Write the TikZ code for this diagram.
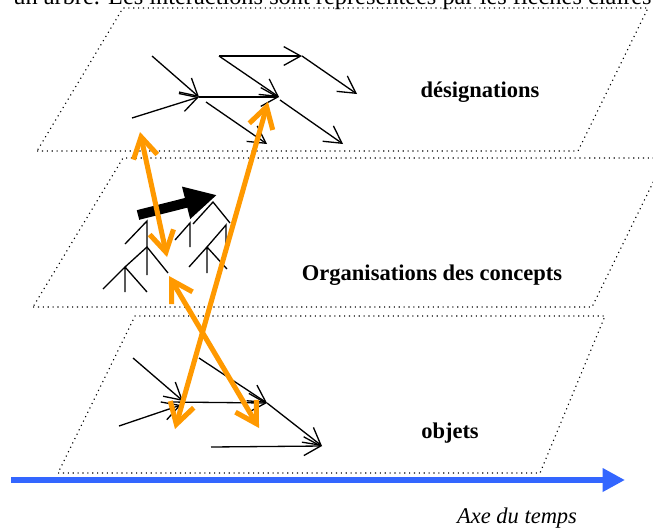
\documentclass[tikz,border=0pt,12pt]{standalone}
\usepackage{fontspec}
\setmainfont{Liberation Serif}
\usetikzlibrary{arrows.meta}
\definecolor{axisblue}{RGB}{51,102,255}
\definecolor{linkorange}{RGB}{255,153,0}
\tikzset{
  plane/.style = {dotted, line width=.6pt},
  rel/.style = {line width=.7pt, -{Straight Barb[length=9pt, width=10pt]}},
  fork/.style = {line width=.7pt},
  link/.style = {linkorange, line width=2.7pt,
    {Straight Barb[length=11pt, width=13pt]}-{Straight Barb[length=11pt, width=13pt]}},
  layer/.style = {font=\bfseries, anchor=base, inner sep=0pt}
}
\begin{document}
\begin{tikzpicture}[x = .5333pt, y = -.5333pt]
      \useasboundingbox (0,0) rectangle (653,529);
      \clip (0,0) rectangle (653,529);
      \node [anchor=base west, inner sep=0pt, font=\fontsize{13pt}{15pt}\selectfont] (legende) at (13,4.5) {un arbre. Les interactions sont représentées par les flèches claires};
      \draw [plane] (37,151) -- (578,151) -- (648,8) -- (123,8) -- cycle;
      \draw [plane] (33,307) -- (592,307) -- (665,158) -- (123,158) -- cycle;
      \draw [plane] (58,473) -- (540,473) -- (605,316) -- (135,316) -- cycle;
      % designations
      \draw [rel] (152,56) -- (199,97);
      \draw [rel] (132,118) -- (199,97);
      \draw [rel] (199,97) -- (279,97);
      \draw [rel] (219,56) -- (279,97);
      \draw [rel] (219,56) -- (302,56);
      \draw [rel] (206,102) -- (267,144);
      \draw [rel] (280,100) -- (343,144);
      \draw [rel] (302,56) -- (357,94);
      % concepts
      \draw [line width=5.3pt, -{Triangle[length=17pt, width=16.5pt]}] (138,215) -- (217,195);
      \draw [fork] (125,244) -- (147,221) -- (147,275);
      \draw [fork] (125,267) -- (147,247) -- (168,273);
      \draw [fork] (103,289) -- (125,267) -- (147,292) (125,267) -- (125,292);
      \draw [fork] (175,240) -- (190,223) -- (190,247);
      \draw [fork] (193,224) -- (213,202) -- (230,223);
      \draw [fork] (207,247) -- (226,225) -- (226,247);
      \draw [fork] (189,267) -- (207,247) -- (227,269) (207,247) -- (207,273);
      % objets
      \draw [rel] (133,358) -- (183,401);
      \draw [rel] (119,426) -- (181,405);
      \draw [rel] (170,402) -- (267,403);
      \draw [rel] (199,358) -- (267,403);
      \draw [rel] (267,403) -- (322,446);
      \draw [rel] (211,447) -- (322,446);
      % interactions
      \coordinate (d1) at (140,132);
      \coordinate (d2) at (268,102);
      \coordinate (c1) at (167,257);
      \coordinate (c2) at (169,276);
      \coordinate (o1) at (175,429);
      \coordinate (o2) at (259,428);
      \draw [link] (d1) -- (c1);
      \draw [link] (d2) -- (o1);
      \draw [link] (c2) -- (o2);
      \node [layer] (designations) at (480,97) {désignations};
      \node [layer] (concepts) at (432,280) {Organisations des concepts};
      \node [layer] (objets) at (450,438) {objets};
      \draw [axisblue, line width=3.7pt, -{Triangle[length=12pt, width=12pt]}] (11,480) -- (625,480);
      \node [anchor=base, inner sep=0pt, font=\itshape] (axe) at (517,523) {Axe du temps};
    \end{tikzpicture}
\end{document}
